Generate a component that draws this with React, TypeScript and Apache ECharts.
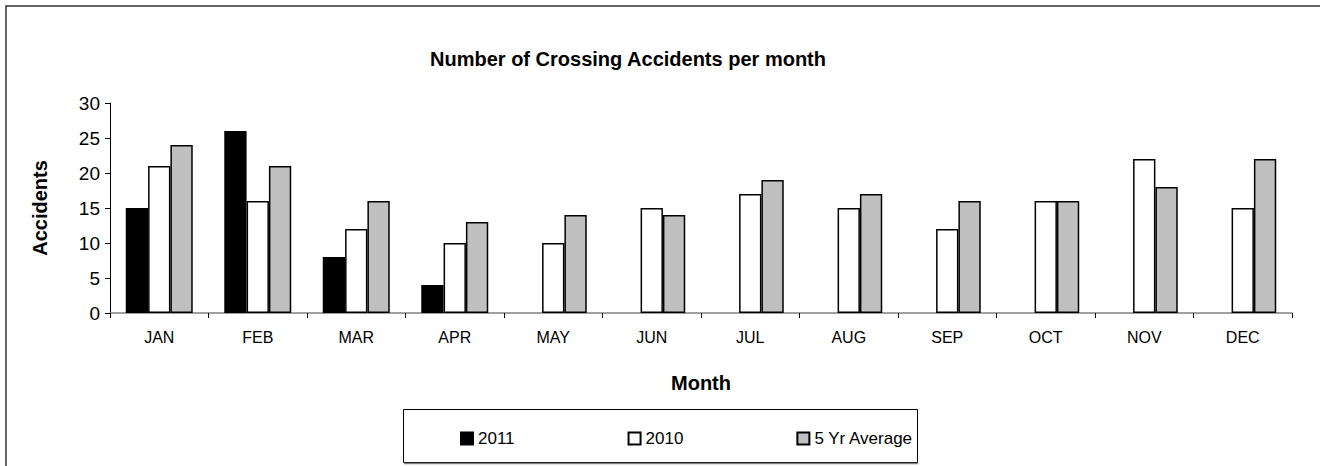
import React, { useEffect, useRef } from "react";
import * as echarts from "echarts";

const months = ["JAN", "FEB", "MAR", "APR", "MAY", "JUN", "JUL", "AUG", "SEP", "OCT", "NOV", "DEC"];
const values2011: (number | null)[] = [15, 26, 8, 4, null, null, null, null, null, null, null, null];
const values2010 = [21, 16, 12, 10, 10, 15, 17, 15, 12, 16, 22, 15];
const values5yr = [24, 21, 16, 13, 14, 14, 19, 17, 16, 16, 18, 22];
const seriesNames = ["2011", "2010", "5 Yr Average"];

const FONT = "'Liberation Sans', Arial, sans-serif";

export default function App() {
  const ref = useRef<HTMLDivElement>(null);
  useEffect(() => {
    document.body.style.margin = "0";
    if (!ref.current) return;
    const chart = echarts.init(ref.current, null, { renderer: "svg" });
    const barStyle = (fill: string) => ({ color: fill, borderColor: "#000", borderWidth: 1.5 });
    chart.setOption({
      animation: false,
      backgroundColor: "#fff",
      textStyle: { fontFamily: FONT },
      title: {
        text: "Number of Crossing Accidents per month",
        left: 623,
        top: 44,
        textAlign: "center",
        textStyle: { fontFamily: FONT, fontWeight: "bold", fontSize: 20, color: "#000" },
      },
      grid: { left: 110, right: 28, top: 103, bottom: 153, containLabel: false },
      legend: {
        left: 455,
        top: 425,
        itemWidth: 12,
        itemHeight: 12,
        itemGap: 113,
        icon: "rect",
        data: seriesNames,
        textStyle: { fontFamily: FONT, fontSize: 17, color: "#000" },
      },
      xAxis: {
        type: "category",
        data: months,
        name: "Month",
        nameLocation: "middle",
        nameGap: 60,
        nameTextStyle: { fontFamily: FONT, fontWeight: "bold", fontSize: 20, color: "#000" },
        axisLine: { lineStyle: { color: "#808080", width: 1.5 } },
        axisTick: { show: true, length: 5, lineStyle: { color: "#000" } },
        axisLabel: { fontFamily: FONT, fontSize: 16, color: "#000", margin: 16 },
      },
      yAxis: {
        type: "value",
        min: 0,
        max: 30,
        interval: 5,
        name: "Accidents",
        nameLocation: "middle",
        nameGap: 60,
        nameTextStyle: { fontFamily: FONT, fontWeight: "bold", fontSize: 20, color: "#000" },
        splitLine: { show: false },
        axisLine: { show: true, lineStyle: { color: "#000", width: 1 } },
        axisTick: { show: true, length: 5, lineStyle: { color: "#000" } },
        axisLabel: { fontFamily: FONT, fontSize: 19, color: "#000", margin: 10 },
      },
      series: [
        { name: seriesNames[0], type: "bar", data: values2011, itemStyle: barStyle("#000"), barGap: "0%", barCategoryGap: "32%" },
        { name: seriesNames[1], type: "bar", data: values2010, itemStyle: barStyle("#fff"), barGap: "0%", barCategoryGap: "32%" },
        { name: seriesNames[2], type: "bar", data: values5yr, itemStyle: barStyle("#C0C0C0"), barGap: "0%", barCategoryGap: "32%" },
      ],
      graphic: [
        {
          type: "rect",
          shape: { x: 6, y: 6, width: 1400, height: 600 },
          style: { fill: "none", stroke: "#333", lineWidth: 1.5 },
          silent: true,
        },
        {
          type: "rect",
          shape: { x: 403.5, y: 409.5, width: 514, height: 53 },
          style: { fill: "none", stroke: "#000", lineWidth: 1 },
          silent: true,
        },
        {
          type: "line",
          shape: { x1: 404, y1: 463.5, x2: 918, y2: 463.5 },
          style: { stroke: "#808080", lineWidth: 1.5 },
          silent: true,
        },
      ],
    });
    return () => chart.dispose();
  }, []);
  return <div ref={ref} style={{ width: 1320, height: 466, overflow: "hidden" }} />;
}
